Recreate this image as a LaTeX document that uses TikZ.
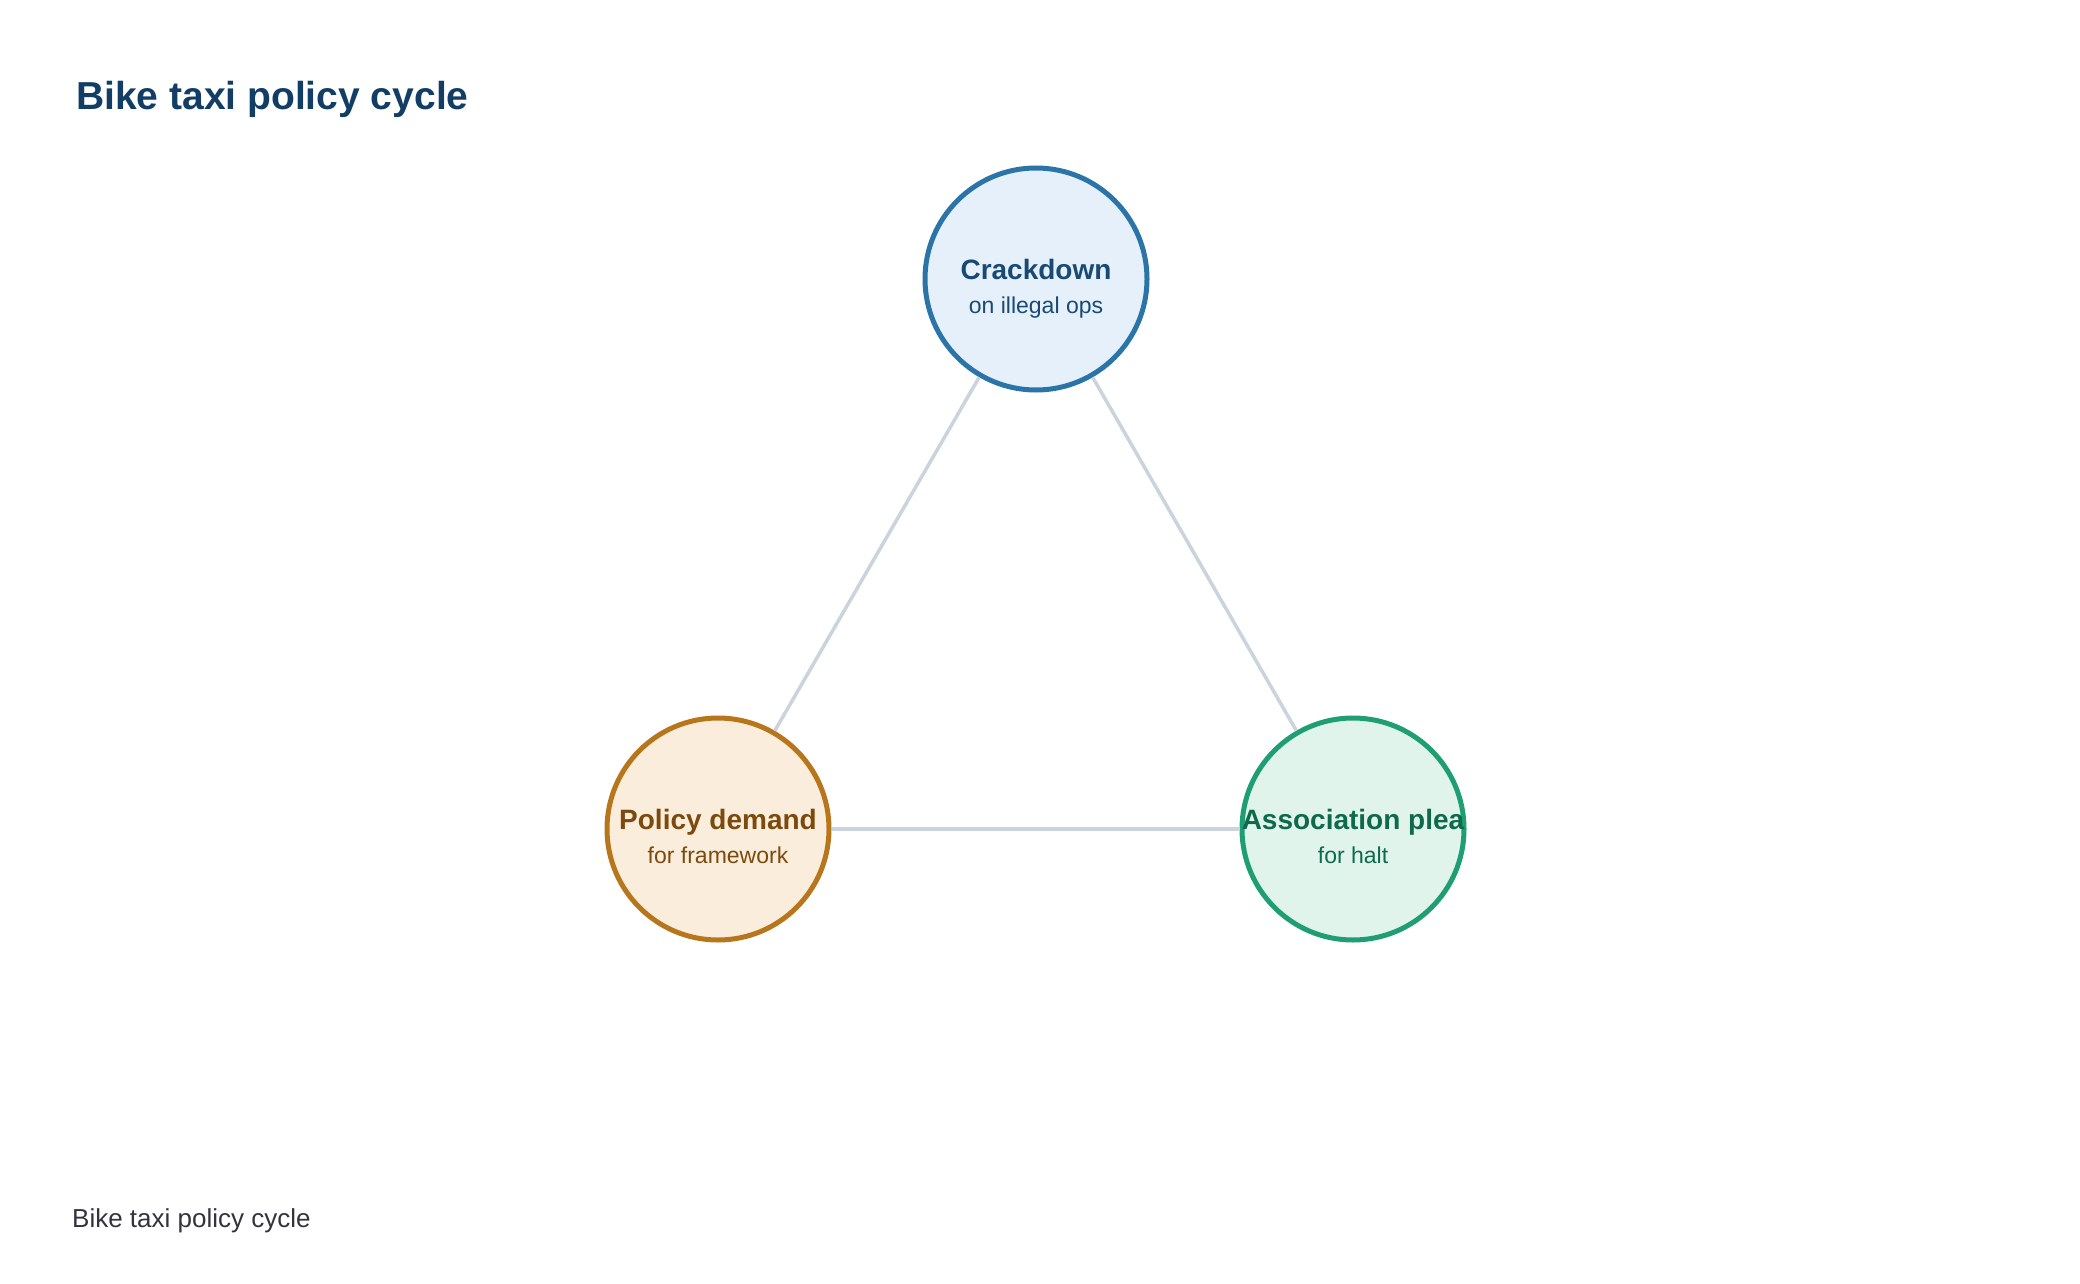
\documentclass[tikz,border=0pt]{standalone}
\usepackage{fontspec}
\setmainfont{Liberation Sans}
\definecolor{titlec}{HTML}{123E66}
\definecolor{footc}{HTML}{33333F}
\definecolor{edgec}{HTML}{CBD3DD}
\definecolor{bstroke}{HTML}{2A74A8}
\definecolor{bfill}{HTML}{E6F0FA}
\definecolor{btext}{HTML}{184A74}
\definecolor{ostroke}{HTML}{B8761C}
\definecolor{ofill}{HTML}{FAEDDC}
\definecolor{otext}{HTML}{7C4A0C}
\definecolor{gstroke}{HTML}{1E9E72}
\definecolor{gfill}{HTML}{E0F4EC}
\definecolor{gtext}{HTML}{0F6A4C}
\tikzset{
  hub/.style={circle, draw, line width=5pt, minimum size=222pt, inner sep=0pt},
  headtxt/.style={anchor=base, font=\fontsize{28}{30}\selectfont\bfseries, inner sep=0pt},
  subtxt/.style={anchor=base, font=\fontsize{23}{26}\selectfont, inner sep=0pt},
  link/.style={draw=edgec, line width=3.5pt}
}
\begin{document}
\begin{tikzpicture}[x=1pt,y=-1pt]
\useasboundingbox[fill=white] (0,0) rectangle (2080,1284);
\node[anchor=base west, inner sep=0pt, text=titlec, font=\fontsize{39}{42}\selectfont\bfseries] (title) at (76,110) {Bike taxi policy cycle};
\node[anchor=base west, inner sep=0pt, text=footc, font=\fontsize{26}{30}\selectfont] (foot) at (72,1227) {Bike taxi policy cycle};

\node[hub, draw=bstroke, fill=bfill] (top) at (1036,279) {};
\node[hub, draw=ostroke, fill=ofill] (left) at (718,829) {};
\node[hub, draw=gstroke, fill=gfill] (right) at (1353,829) {};

\draw[link] (top) -- (left);
\draw[link] (top) -- (right);
\draw[link] (left) -- (right);

\node[headtxt, text=btext] (topa) at (1036,279) {Crackdown};
\node[subtxt, text=btext] (topb) at (1036,313) {on illegal ops};
\node[headtxt, text=otext] (lefta) at (718,829) {Policy demand};
\node[subtxt, text=otext] (leftb) at (718,863) {for framework};
\node[headtxt, text=gtext] (righta) at (1353,829) {Association plea};
\node[subtxt, text=gtext] (rightb) at (1353,863) {for halt};
\end{tikzpicture}
\end{document}
